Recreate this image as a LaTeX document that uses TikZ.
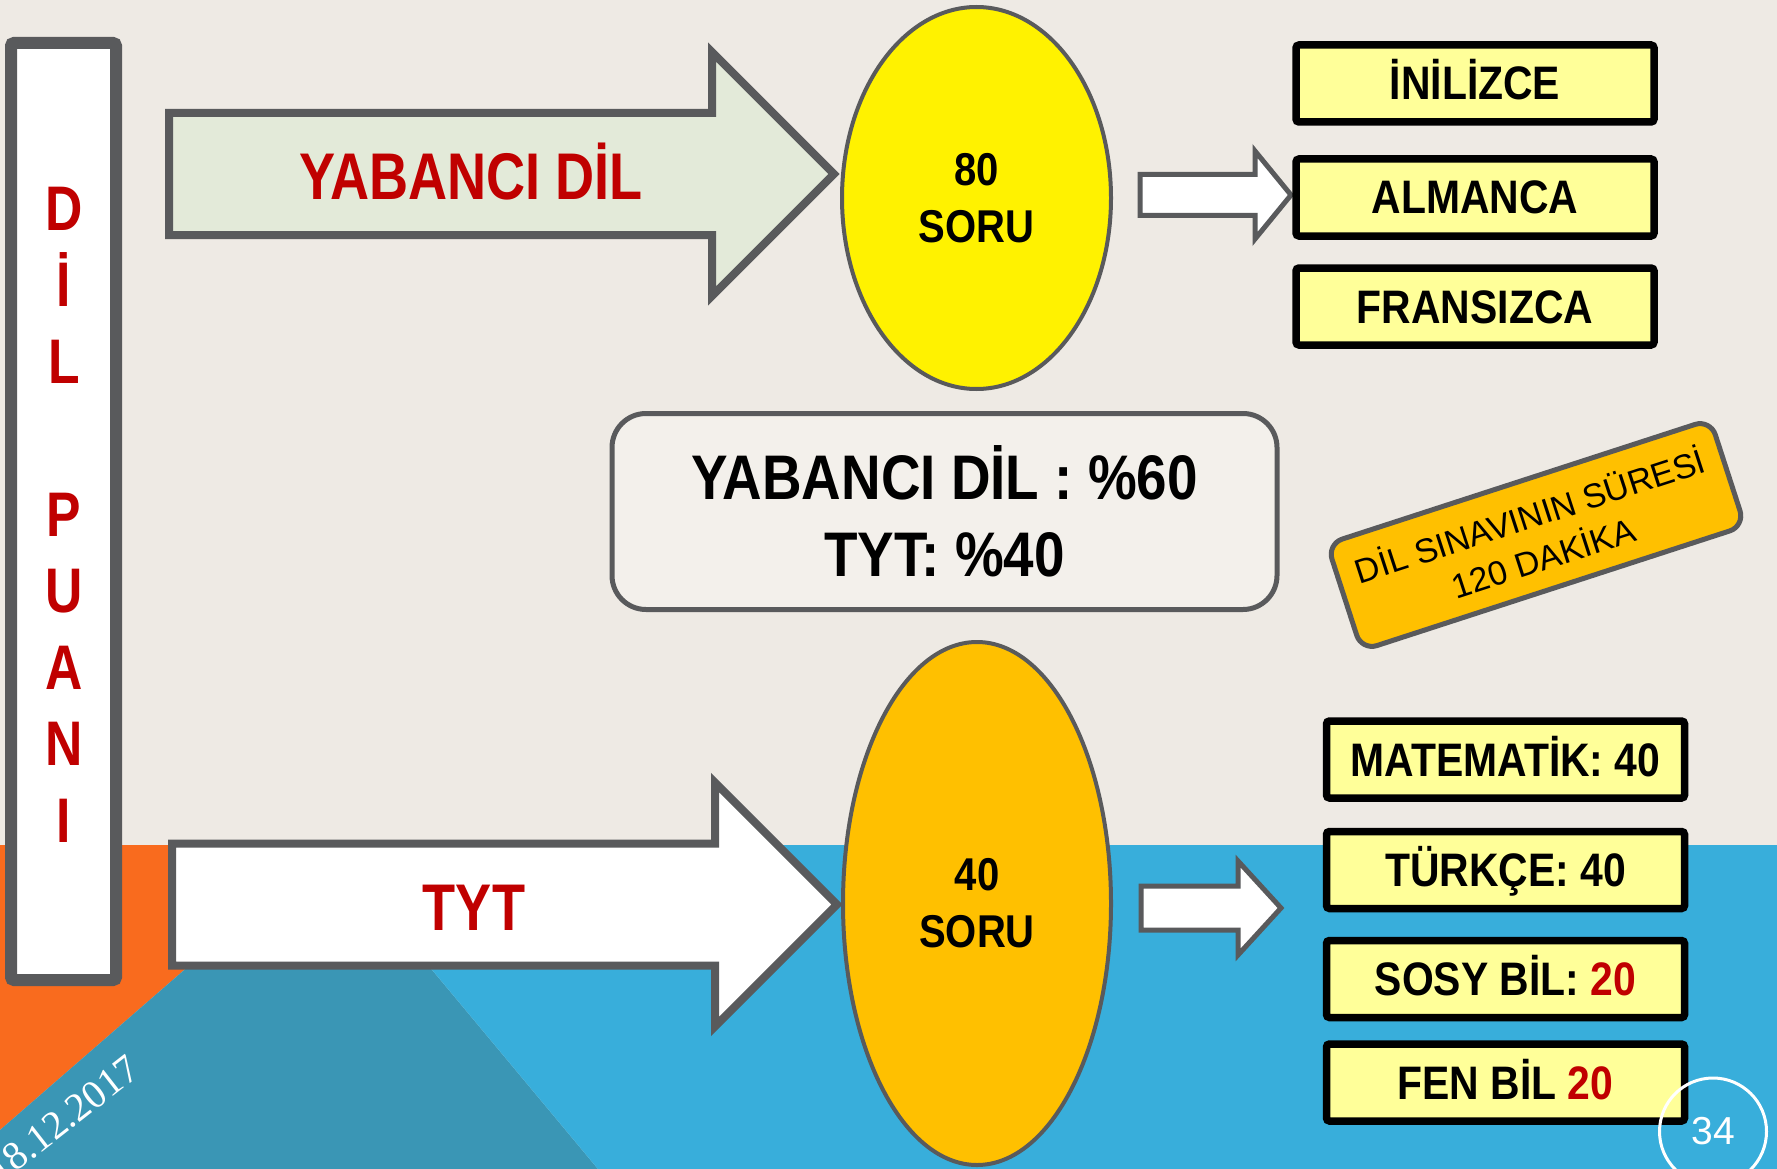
\documentclass[tikz,border=0pt]{standalone}
\usepackage{fontspec}
\setmainfont{Liberation Sans}
\newfontfamily\titlefont{Liberation Sans}[FakeStretch=0.82]
\newfontfamily\labelfont{Liberation Sans}[FakeStretch=0.87]
\newfontfamily\datefont{Liberation Serif}
\usetikzlibrary{shapes.geometric}

\definecolor{bgbeige}{RGB}{238,234,228}
\definecolor{bgorange}{RGB}{249,107,30}
\definecolor{bgteal}{RGB}{58,150,181}
\definecolor{bgblue}{RGB}{56,174,219}
\definecolor{framegray}{RGB}{89,90,92}
\definecolor{darkred}{RGB}{192,0,0}
\definecolor{palegreen}{RGB}{227,234,217}
\definecolor{paleyellow}{RGB}{255,255,153}
\definecolor{amber}{RGB}{255,192,0}
\definecolor{boxfill}{RGB}{243,240,235}

\begin{document}
\begin{tikzpicture}[x=1pt,y=-1pt,
    blockarrow/.style={draw=framegray,line width=8pt,line join=miter},
    smallarrow/.style={draw=framegray,fill=white,line width=5pt,line join=miter},
    redtitle/.style={text=darkred,inner sep=0pt,text height=47pt,text depth=0pt,
      font=\titlefont\bfseries\fontsize{66}{66}\selectfont},
    soru/.style={ellipse,draw=framegray,line width=4pt,align=center,inner sep=0pt,
      font=\labelfont\bfseries\fontsize{46}{57}\selectfont},
    langbox/.style={draw=black,fill=paleyellow,line width=7.5pt,rounded corners=3pt,
      minimum width=358pt,minimum height=77pt,inner sep=0pt,text height=33pt,text depth=0pt,
      font=\labelfont\bfseries\fontsize{47}{47}\selectfont}]

  \useasboundingbox (0,0) rectangle (1777,1169);
  \clip (0,0) rectangle (1777,1169);

  % background
  \fill[bgbeige] (0,0) rectangle (1777,1169);
  \fill[bgorange] (0,845) -- (328,845) -- (0,1130) -- cycle;
  \fill[bgteal] (328,845) -- (0,1130) -- (0,1169) -- (598,1169) -- cycle;
  \fill[bgblue] (328,845) -- (1777,845) -- (1777,1169) -- (598,1169) -- cycle;

  % left frame
  \node[draw=framegray,fill=white,line width=12pt,rounded corners=3pt,
    minimum width=105pt,minimum height=937pt] (dilpuani) at (63.5,511.5) {};
  \foreach \ch/\yy [count=\i] in {D/230,İ/306.5,L/383,P/536,U/612.5,A/689,N/765.5,I/842}
    \node[anchor=base,text=darkred,inner sep=0pt,
      font=\titlefont\bfseries\fontsize{63}{63}\selectfont] (dp\i) at (64,\yy) {\ch};

  % big arrows
  \draw[blockarrow,fill=palegreen] (169,113) -- (712,113) -- (712,52) -- (834,174)
    -- (712,296) -- (712,235) -- (169,235) -- cycle;
  \draw[blockarrow,fill=white] (172,843.5) -- (715,843.5) -- (715,782.5) -- (837,904.5)
    -- (715,1026.5) -- (715,965.5) -- (172,965.5) -- cycle;
  \node[redtitle] (yabanci) at (471,176.5) {YABANCI DİL};
  \node[redtitle] (tyt) at (474,907) {TYT};

  % question counts
  \node[soru,fill=yellow,minimum width=269pt,minimum height=382pt] (soru80) at (976.5,198) {80\\SORU};
  \node[soru,fill=amber,minimum width=268pt,minimum height=523pt] (soru40) at (977,903.5) {40\\SORU};

  % small arrows
  \draw[smallarrow] (1140,174.5) -- (1255,174.5) -- (1255,151) -- (1291,195)
    -- (1255,239) -- (1255,215.5) -- (1140,215.5) -- cycle;
  \draw[smallarrow] (1141,886) -- (1238,886) -- (1238,861) -- (1281,908)
    -- (1238,955) -- (1238,930) -- (1141,930) -- cycle;

  % languages
  \node[langbox] (ingilizce) at (1475,83.5) {İNİLİZCE};
  \node[langbox] (almanca) at (1475,197.5) {ALMANCA};
  \node[langbox] (fransizca) at (1475,306.5) {FRANSIZCA};

  % tyt parts
  \node[langbox] (matematik) at (1505.5,759.5) {MATEMATİK: 40};
  \node[langbox] (turkce) at (1505.5,870) {TÜRKÇE: 40};
  \node[langbox] (sosyal) at (1505.5,979) {SOSY BİL: \textcolor{darkred}{20}};
  \node[langbox] (fen) at (1505.5,1082.5) {FEN BİL \textcolor{darkred}{20}};

  % weights
  \node[draw=framegray,fill=boxfill,line width=5pt,rounded corners=34pt,
    minimum width=665pt,minimum height=196pt,align=center,
    font=\labelfont\bfseries\fontsize{63}{77}\selectfont] (ratio) at (944.5,511.5)
    {YABANCI DİL : \%60\\TYT: \%40};

  % duration tag
  \node[draw=framegray,fill=amber,line width=5pt,rounded corners=16pt,rotate=18,
    minimum width=403pt,minimum height=112pt,align=center,
    font=\fontsize{34}{44}\selectfont] (sure) at (1536,535)
    {DİL SINAVININ SÜRESİ\\120 DAKİKA};

  % footer
  \node[circle,draw=white,line width=3pt,minimum size=107pt,inner sep=0pt,text=white,
    font=\fontsize{39}{39}\selectfont] (page) at (1713,1131.5) {34};
  \node[anchor=base east,rotate=38,inner sep=0pt,text=white,
    font=\datefont\fontsize{40}{40}\selectfont] (date) at (142,1074) {18.12.2017};

\end{tikzpicture}
\end{document}
